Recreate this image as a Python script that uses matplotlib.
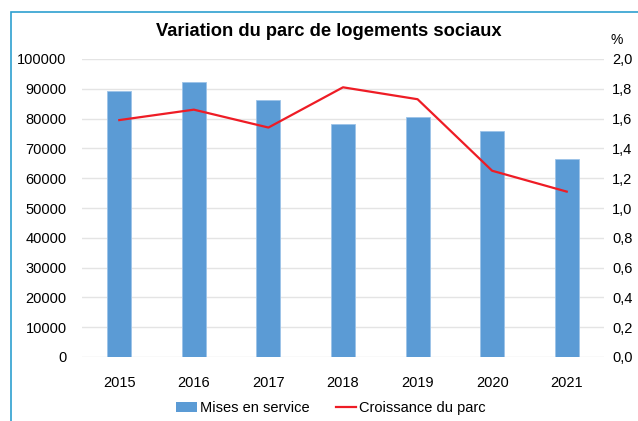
import matplotlib
matplotlib.use("Agg")
import matplotlib.pyplot as plt
from matplotlib.lines import Line2D
from matplotlib.patches import Patch, Rectangle
from matplotlib.ticker import FixedLocator

YEARS = ["2015", "2016", "2017", "2018", "2019", "2020", "2021"]
MISES_EN_SERVICE = [89300, 92200, 86200, 78200, 80400, 75900, 66500]
CROISSANCE = [1.59, 1.66, 1.54, 1.81, 1.73, 1.25, 1.11]

BAR_COLOR = "#5b9bd5"
LINE_COLOR = "#ee1c25"
GRID_COLOR = "#e4e4e4"
FRAME_COLOR = "#2e9fcf"

plt.rcParams["font.family"] = ["Liberation Sans", "DejaVu Sans"]

fig = plt.figure(figsize=(6.38, 4.21), dpi=100)
ax = fig.add_axes([82 / 638, 1 - 357 / 421, (604 - 82) / 638, (357 - 59) / 421])

x = list(range(len(YEARS)))
ax.bar(x, MISES_EN_SERVICE, width=0.32, color=BAR_COLOR, edgecolor="#9cc3e8",
       linewidth=0.6, zorder=2)
ax.set_xlim(-0.5, len(YEARS) - 0.5)
ax.set_ylim(0, 100000)
ax.yaxis.set_major_locator(FixedLocator(range(0, 100001, 10000)))
ax.set_yticklabels([str(v) for v in range(0, 100001, 10000)], fontsize=10.5)
ax.set_xticks(x)
ax.set_xticklabels(YEARS, fontsize=10.5)
ax.tick_params(axis="both", length=0)
ax.tick_params(axis="x", pad=14)
ax.tick_params(axis="y", pad=11)
ax.grid(axis="y", color=GRID_COLOR, linewidth=1, zorder=0)
for s in ax.spines.values():
    s.set_visible(False)

ax2 = ax.twinx()
ax2.plot(x, CROISSANCE, color=LINE_COLOR, linewidth=1.6, zorder=3)
ax2.set_ylim(0, 2.0)
ticks = [i * 0.2 for i in range(11)]
ax2.yaxis.set_major_locator(FixedLocator(ticks))
ax2.set_yticklabels([f"{t:.1f}".replace(".", ",") for t in ticks], fontsize=10.5)
ax2.tick_params(axis="y", length=0, pad=6)
for s in ax2.spines.values():
    s.set_visible(False)

fig.text(329 / 638, 1 - 32 / 421, "Variation du parc de logements sociaux",
         ha="center", va="center", fontsize=13.2, fontweight="bold")
fig.text(617 / 638, 1 - 40 / 421, "%", ha="center", va="center", fontsize=10)

# chart frame (left and top edges visible)
fig.add_artist(Rectangle((11 / 638, -0.1), 1.2, 1 - 12 / 421 + 0.1,
                         transform=fig.transFigure, fill=False,
                         edgecolor=FRAME_COLOR, linewidth=1.2))

handles = [Patch(facecolor=BAR_COLOR, edgecolor="none"),
           Line2D([0], [0], color=LINE_COLOR, linewidth=1.6)]
fig.legend(handles, ["Mises en service", "Croissance du parc"],
           loc="center", bbox_to_anchor=(331 / 638, 1 - 408 / 421), ncol=2,
           frameon=False, fontsize=10.5, handlelength=1.4, handletextpad=0.2,
           columnspacing=1.8)

fig.savefig("out.png", dpi=100, facecolor="white")
